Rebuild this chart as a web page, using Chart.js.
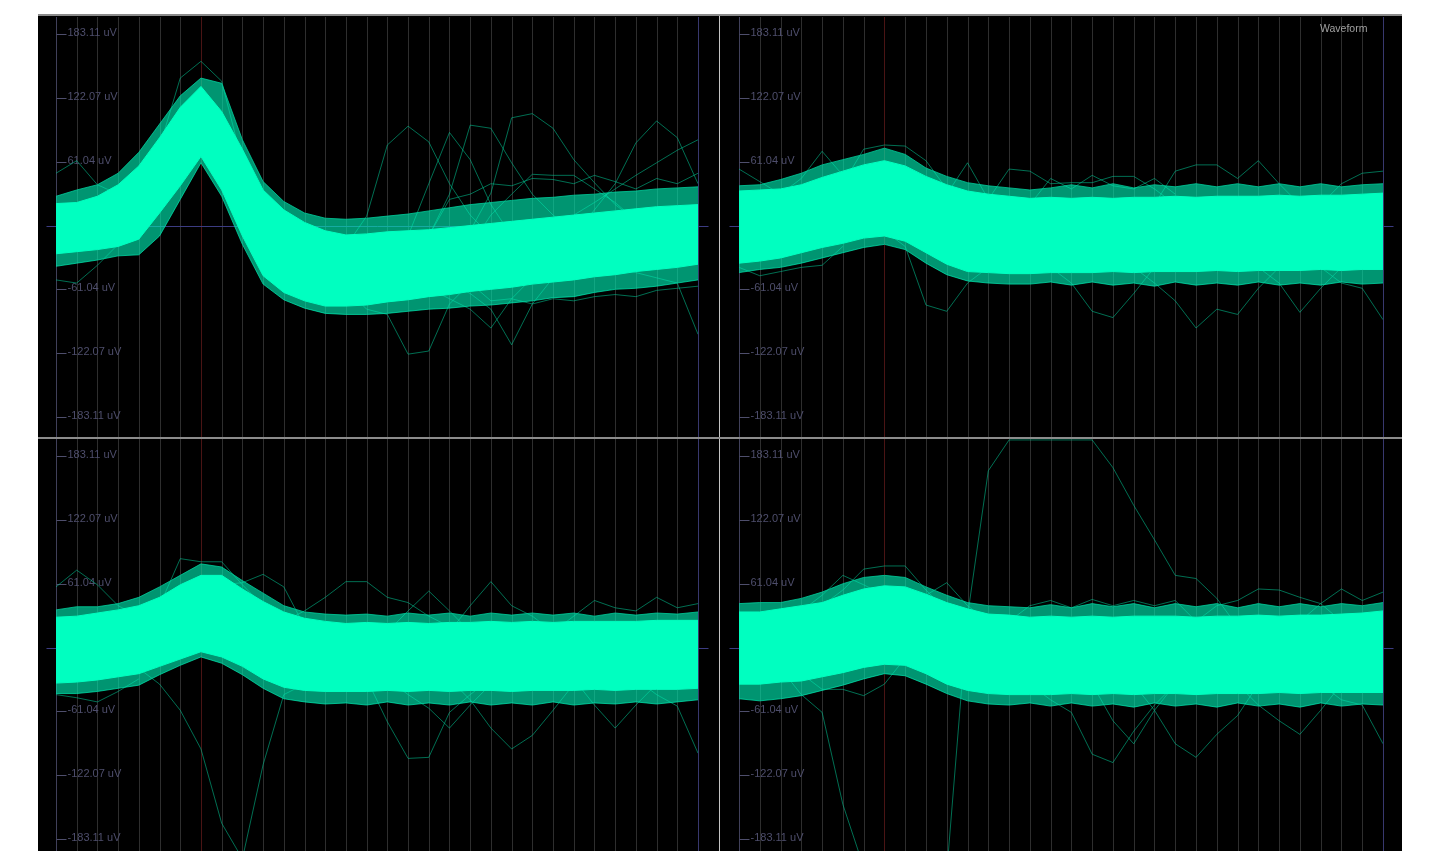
<!DOCTYPE html>
<html><head><meta charset="utf-8">
<script src="https://cdn.jsdelivr.net/npm/chart.js@4.4.1/dist/chart.umd.min.js"></script>
<style>
html,body{margin:0;padding:0;background:#fff;overflow:hidden;width:1439px;height:851px;}
#scope{position:absolute;left:38px;top:14px;width:1364px;height:837px;background:#000;}
canvas{position:absolute;}
#topline{position:absolute;left:38px;top:14px;width:1364px;height:2px;background:#8a8a8a;}
#vdiv{position:absolute;left:719px;top:16px;width:1px;height:835px;background:#c4c4c4;}
#hdiv{position:absolute;left:38px;top:437px;width:1364px;height:2px;background:#8c8c8c;}
#title{position:absolute;left:1320px;top:22px;font:10.5px "Liberation Sans",Arial,sans-serif;color:#a0a0a0;}
</style></head>
<body>
<div id="scope"></div>
<canvas id="c1" width="681" height="420" style="left:38px;top:17px;width:681px;height:420px"></canvas>
<canvas id="c2" width="682" height="420" style="left:720px;top:17px;width:682px;height:420px"></canvas>
<canvas id="c3" width="681" height="420" style="left:38px;top:439px;width:681px;height:420px"></canvas>
<canvas id="c4" width="682" height="420" style="left:720px;top:439px;width:682px;height:420px"></canvas>
<div id="topline"></div><div id="vdiv"></div><div id="hdiv"></div>
<div id="title">Waveform</div>
<script>
// ---- samples and axis ticks ----
const sampleIdx = [0,1,2,3,4,5,6,7,8,9,10,11,12,13,14,15,16,17,18,19,20,21,22,23,24,25,26,27,28,29,30,31];
const markSample = 7;
const tickValues = [183.11, 122.07, 61.04, -61.04, -122.07, -183.11];
const tickLabels = ['183.11 uV', '122.07 uV', '61.04 uV', '-61.04 uV', '-122.07 uV', '-183.11 uV'];

// ---- channel 1 (top-left) ----
const ch1Upper = [21,22,28,39,57,84,113,133,109,73,34,15,3,-5,-9,-8,-6,-5,-4,-2,0,2,4,6,8,10,12,14,16,18,19,20];
const ch1Lower = [-27,-25,-23,-20,-13,12,38,66,34,-10,-48,-64,-72,-77,-77,-76,-73,-71,-68,-66,-63,-61,-59,-56,-54,-52,-49,-47,-44,-42,-40,-37];
const ch1FringeUp = [28,34,39,50,70,97,124,141,136,82,42,23,12,7,6,7,9,11,14,17,20,22,24,26,27,29,30,32,33,35,36,37];
const ch1FringeLo = [-39,-36,-33,-29,-28,-10,25,60,28,-18,-56,-71,-79,-84,-85,-85,-84,-82,-80,-79,-77,-76,-74,-72,-69,-68,-64,-61,-60,-58,-55,-52];
const ch1Outliers = [
  [[0,50],[1,62],[2,39],[3,30],[4,40]],
  [[4,40],[5,75],[6,141],[7,157],[8,138],[9,60]],
  [[13,-30],[14,-20],[15,9],[16,77],[17,95],[18,80],[19,40],[20,10],[21,-10]],
  [[16,-30],[17,-10],[18,40],[19,89],[20,63],[21,20],[22,-10]],
  [[17,-30],[18,-10],[19,30],[20,96],[21,93],[22,60],[23,30],[24,10],[25,-5]],
  [[19,-20],[20,-5],[21,31],[22,103],[23,107],[24,93],[25,63],[26,41],[27,20],[28,5]],
  [[20,-20],[21,10],[22,30],[23,49],[24,48],[25,48],[26,35],[27,22],[28,5]],
  [[25,-10],[26,15],[27,40],[28,79],[29,100],[30,84],[31,40]],
  [[24,-10],[25,10],[26,22],[27,35],[28,48],[29,60],[30,72],[31,82]],
  [[18,-10],[19,25],[20,30],[21,40],[22,38],[23,45],[24,44],[25,40],[26,48],[27,42],[28,35],[29,45],[30,40],[31,50]],
  [[14,-60],[15,-80],[16,-85],[17,-123],[18,-120],[19,-75],[20,-55]],
  [[18,-60],[19,-70],[20,-80],[21,-98],[22,-70],[23,-50]],
  [[19,-55],[20,-65],[21,-80],[22,-114],[23,-75],[24,-50]],
  [[27,-40],[28,-45],[29,-50],[30,-55],[31,-104]],
  [[0,-52],[1,-55],[2,-38],[3,-18]],
  [[20,-55],[21,-72],[22,-70],[23,-75],[24,-70],[25,-72],[26,-68],[27,-66],[28,-68],[29,-62],[30,-60],[31,-58]]
];

// ---- channel 2 (top-right) ----
const ch2Upper = [33,34,35,39,46,52,58,62,57,47,39,33,30,28,26,27,26,27,26,27,27,28,27,28,28,28,29,28,29,29,30,31];
const ch2Lower = [-36,-34,-31,-26,-21,-17,-12,-10,-15,-26,-37,-44,-45,-46,-46,-45,-45,-45,-44,-45,-44,-44,-44,-43,-44,-43,-43,-43,-42,-43,-42,-42];
const ch2FringeUp = [38,39,44,50,58,63,68,74,68,55,47,41,38,36,34,36,39,36,40,36,39,37,40,37,40,37,40,37,40,37,39,40];
const ch2FringeLo = [-45,-42,-40,-36,-31,-26,-21,-18,-23,-36,-47,-53,-55,-56,-56,-54,-57,-54,-57,-55,-58,-54,-57,-55,-57,-54,-57,-55,-57,-54,-56,-55];
const ch2Outliers = [
  [[0,54],[1,42],[2,30]],
  [[2,30],[3,45],[4,71],[5,48],[6,40]],
  [[5,40],[6,73],[7,77],[8,76],[9,62],[10,35]],
  [[10,30],[11,60],[12,25]],
  [[12,25],[13,54],[14,52],[15,40],[16,41],[17,41],[18,47],[19,47],[20,35],[21,20]],
  [[20,20],[21,52],[22,58],[23,58],[24,45],[25,62],[26,40],[27,20]],
  [[28,20],[29,40],[30,50],[31,52]],
  [[14,20],[15,45],[16,35],[17,48],[18,38],[19,35],[20,45],[21,30]],
  [[7,-5],[8,-20],[9,-76],[10,-82],[11,-55],[12,-40]],
  [[15,-40],[16,-55],[17,-82],[18,-88],[19,-65],[20,-40]],
  [[19,-40],[20,-55],[21,-72],[22,-98],[23,-80],[24,-85],[25,-60],[26,-40]],
  [[25,-40],[26,-55],[27,-83],[28,-60],[29,-40]],
  [[28,-40],[29,-55],[30,-60],[31,-90]],
  [[0,-40],[1,-48],[2,-44],[3,-40],[4,-38],[5,-20]]
];

// ---- channel 3 (bottom-left) ----
const ch3Upper = [29,30,33,36,40,48,60,69,69,56,44,34,28,25,23,24,23,24,23,24,24,25,24,25,24,25,25,25,25,26,26,26];
const ch3Lower = [-34,-33,-31,-28,-25,-18,-11,-4,-9,-18,-30,-38,-41,-42,-42,-42,-41,-42,-41,-42,-41,-41,-42,-41,-41,-41,-40,-41,-40,-40,-40,-39];
const ch3FringeUp = [36,39,39,42,48,58,69,80,77,64,52,40,34,32,31,32,30,33,31,33,30,33,31,33,31,33,30,33,31,33,32,34];
const ch3FringeLo = [-44,-44,-42,-39,-36,-26,-17,-9,-15,-26,-39,-49,-52,-54,-53,-55,-52,-55,-53,-55,-52,-55,-53,-55,-52,-55,-53,-54,-52,-54,-52,-50];
const ch3Outliers = [
  [[4,-20],[5,-35],[6,-60],[7,-97],[8,-168],[9,-202],[10,-112],[11,-45],[12,-35]],
  [[0,58],[1,74],[2,60],[3,40],[4,30]],
  [[5,40],[6,85],[7,82],[8,82],[9,60],[10,40]],
  [[8,60],[9,62],[10,70],[11,58],[12,20]],
  [[11,25],[12,35],[13,48],[14,63],[15,63],[16,48],[17,43],[18,30],[19,20]],
  [[16,15],[17,35],[18,54],[19,35],[20,15]],
  [[19,15],[20,40],[21,63],[22,40],[23,30],[24,15]],
  [[24,15],[25,30],[26,45],[27,38],[28,35],[29,48],[30,38],[31,42]],
  [[15,-30],[16,-71],[17,-106],[18,-105],[19,-62],[20,-45],[21,-30]],
  [[16,-30],[17,-45],[18,-58],[19,-77],[20,-55],[21,-35]],
  [[19,-30],[20,-50],[21,-77],[22,-97],[23,-84],[24,-60],[25,-35]],
  [[25,-30],[26,-55],[27,-77],[28,-55],[29,-35]],
  [[28,-30],[29,-45],[30,-56],[31,-101]],
  [[0,-45],[1,-48],[2,-52],[3,-42],[4,-30]]
];

// ---- channel 4 (bottom-right) ----
const ch4Upper = [34,34,37,40,43,50,56,59,58,51,43,37,32,31,29,30,29,30,29,30,30,30,29,30,30,31,30,31,31,32,33,35];
const ch4Lower = [-35,-35,-33,-32,-28,-24,-19,-16,-17,-25,-35,-41,-44,-45,-45,-45,-44,-45,-44,-45,-44,-44,-45,-44,-44,-44,-43,-44,-43,-43,-43,-43];
const ch4FringeUp = [42,43,43,47,53,61,67,69,67,58,50,43,40,39,38,41,38,42,39,42,38,42,39,42,38,42,39,42,39,42,40,43];
const ch4FringeLo = [-49,-51,-49,-46,-41,-36,-30,-25,-27,-35,-44,-51,-54,-55,-53,-56,-53,-56,-54,-57,-53,-56,-54,-57,-53,-56,-54,-57,-53,-56,-54,-55];
const ch4Outliers = [
  [[2,-20],[3,-45],[4,-62],[5,-150],[6,-210],[7,-235],[8,-240],[9,-235],[10,-215],[11,30],[12,169],[13,198.5],[14,198.5],[15,198.5],[16,198.5],[17,198.5],[18,172],[19,136],[20,103],[21,69],[22,66],[23,47],[24,20]],
  [[4,40],[5,55],[6,75],[7,78],[8,78],[9,55],[10,35]],
  [[3,35],[4,50],[5,69],[6,60],[7,50]],
  [[8,50],[9,50],[10,62],[11,40],[12,25]],
  [[22,25],[23,40],[24,45],[25,56],[26,55],[27,48],[28,42],[29,25]],
  [[27,25],[28,42],[29,56],[30,45],[31,53]],
  [[13,25],[14,40],[15,45],[16,38],[17,46],[18,40],[19,45],[20,40],[21,45],[22,25]],
  [[14,-35],[15,-50],[16,-62],[17,-102],[18,-110],[19,-80],[20,-55],[21,-35]],
  [[17,-35],[18,-70],[19,-92],[20,-60],[21,-35]],
  [[19,-35],[20,-60],[21,-92],[22,-105],[23,-83],[24,-65],[25,-35]],
  [[24,-35],[25,-55],[26,-70],[27,-83],[28,-60],[29,-35]],
  [[28,-35],[29,-50],[30,-55],[31,-92]],
  [[3,-25],[4,-40],[5,-40],[6,-46],[7,-35],[8,-10]]
];

// ---- styles ----
const BRIGHT = '#00ffc0';
const FRINGE_FILL = 'rgba(0,240,182,0.62)';
const FRINGE_EDGE = 'rgba(0,205,155,0.8)';
const OUTLIER = 'rgba(0,200,150,0.55)';
const GRID_COLOR = '#2e2e2e';
const AXIS_COLOR = '#40405a';
const MARK_COLOR = '#4a1414';
const END_COLOR = '#38386e';
const ZERO_COLOR = '#3c3c82';
const LABEL_COLOR = '#4e4e6c';
const Y_MIN = -202.2, Y_MAX = 199.4;

const scopePlugin = {
  id: 'scope',
  beforeDatasetsDraw(chart) {
    const ctx = chart.ctx, a = chart.chartArea, x = chart.scales.x, y = chart.scales.y;
    ctx.save();
    ctx.lineWidth = 1;
    const last = sampleIdx[sampleIdx.length - 1];
    sampleIdx.forEach(i => {
      const px = Math.round(x.getPixelForValue(i)) + 0.5;
      ctx.strokeStyle = i === 0 ? AXIS_COLOR : (i === markSample ? MARK_COLOR : (i === last ? END_COLOR : GRID_COLOR));
      ctx.beginPath(); ctx.moveTo(px, a.top); ctx.lineTo(px, a.bottom); ctx.stroke();
    });
    const x0 = Math.round(x.getPixelForValue(0)) + 0.5;
    const x1 = Math.round(x.getPixelForValue(last)) + 0.5;
    const yz = Math.round(y.getPixelForValue(0)) + 0.5;
    ctx.strokeStyle = ZERO_COLOR;
    ctx.beginPath(); ctx.moveTo(x0 - 10, yz); ctx.lineTo(x1 + 10, yz); ctx.stroke();
    ctx.font = '11px "Liberation Sans", Arial, sans-serif';
    ctx.fillStyle = LABEL_COLOR; ctx.strokeStyle = LABEL_COLOR;
    ctx.textBaseline = 'alphabetic';
    tickValues.forEach((v, k) => {
      const py = Math.round(y.getPixelForValue(v)) + 0.5;
      ctx.beginPath(); ctx.moveTo(x0, py); ctx.lineTo(x0 + 10, py); ctx.stroke();
      ctx.fillText(tickLabels[k], x0 + 11, py + 1);
    });
    ctx.restore();
  }
};

const pts = arr => arr.map((v, i) => ({x: sampleIdx[i], y: v}));
const pairPts = arr => arr.map(p => ({x: p[0], y: p[1]}));

function makeScope(id, padL, padR, upper, lower, fUp, fLo, outliers) {
  const base = {pointRadius: 0, borderWidth: 1, tension: 0};
  const datasets = [
    Object.assign({data: pts(upper), borderColor: BRIGHT, backgroundColor: BRIGHT, fill: '+1'}, base),
    Object.assign({data: pts(lower), borderColor: BRIGHT, fill: false}, base),
    Object.assign({data: pts(fUp), borderColor: FRINGE_EDGE, backgroundColor: FRINGE_FILL, fill: '+1'}, base),
    Object.assign({data: pts(fLo), borderColor: FRINGE_EDGE, fill: false}, base)
  ];
  outliers.forEach(o => datasets.push(Object.assign({data: pairPts(o), borderColor: OUTLIER, fill: false}, base)));
  new Chart(document.getElementById(id), {
    type: 'line',
    data: {datasets},
    options: {
      responsive: false, animation: false, events: [],
      layout: {padding: {left: padL, right: padR, top: 0, bottom: 0}},
      plugins: {legend: {display: false}, tooltip: {enabled: false}},
      scales: {
        x: {type: 'linear', min: 0, max: 31, display: false},
        y: {type: 'linear', min: Y_MIN, max: Y_MAX, display: false}
      }
    },
    plugins: [scopePlugin]
  });
}

makeScope('c1', 18, 21, ch1Upper, ch1Lower, ch1FringeUp, ch1FringeLo, ch1Outliers);
makeScope('c2', 19, 19, ch2Upper, ch2Lower, ch2FringeUp, ch2FringeLo, ch2Outliers);
makeScope('c3', 18, 21, ch3Upper, ch3Lower, ch3FringeUp, ch3FringeLo, ch3Outliers);
makeScope('c4', 19, 19, ch4Upper, ch4Lower, ch4FringeUp, ch4FringeLo, ch4Outliers);
</script>
</body></html>
